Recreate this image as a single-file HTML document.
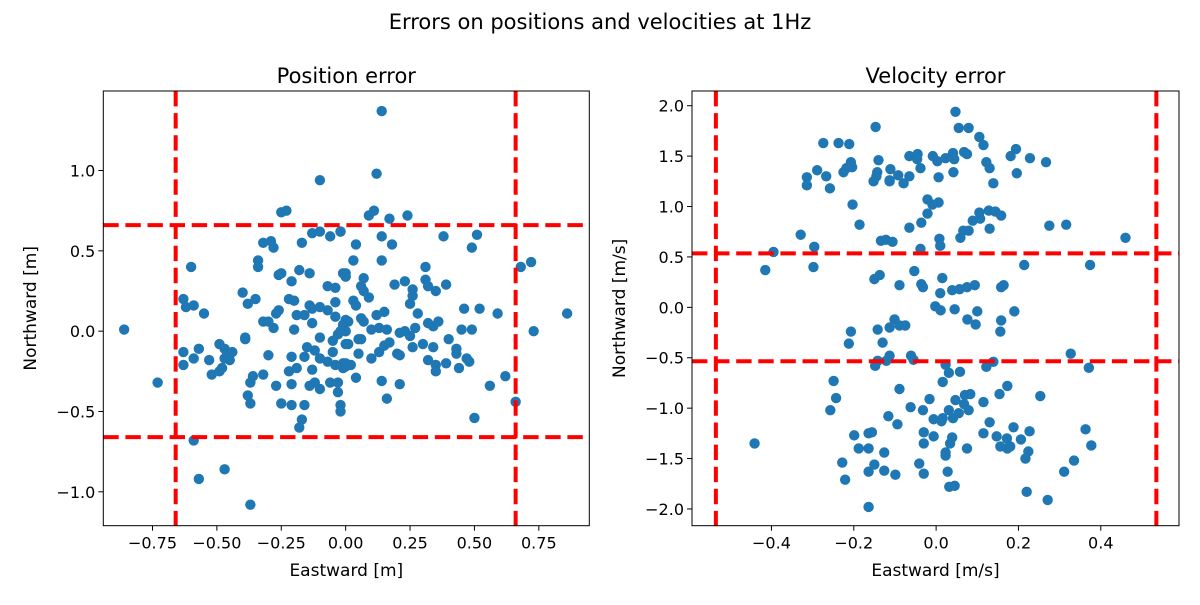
<!DOCTYPE html>
<html><head><meta charset="utf-8"><style>
body{margin:0;background:#fff}
svg{font-family:"DejaVu Sans","Liberation Sans",sans-serif}
</style></head><body>
<svg id="fig" width="1200" height="600">
<text x="600" y="29" text-anchor="middle" font-size="21">Errors on positions and velocities at 1Hz</text>
</svg>
<script>
const posX=[-0.10,-0.25,-0.23,-0.13,-0.10,-0.02,-0.06,-0.32,-0.29,-0.28,-0.17,-0.60,-0.34,-0.34,-0.26,-0.25,-0.21,-0.18,-0.14,0,0,-0.07,-0.04,-0.40,-0.38,-0.35,-0.22,-0.20,-0.04,-0.63,-0.62,-0.59,-0.55,-0.27,-0.26,-0.14,-0.13,-0.10,-0.07,-0.19,-0.16,-0.04,-0.32,-0.30,-0.28,-0.20,-0.13,0,0,-0.01,-0.86,-0.39,-0.39,-0.10,-0.05,-0.03,0,-0.63,-0.57,-0.59,-0.63,-0.49,-0.47,-0.46,-0.44,-0.47,-0.45,-0.53,-0.52,-0.49,-0.48,-0.30,-0.21,-0.16,-0.15,-0.12,-0.10,-0.07,-0.05,-0.04,0,0,-0.22,-0.19,-0.13,-0.73,-0.37,-0.36,-0.32,-0.27,-0.21,-0.14,-0.12,-0.10,-0.06,-0.03,-0.03,-0.38,-0.37,-0.25,-0.21,-0.16,-0.02,-0.02,-0.17,-0.18,-0.59,-0.47,-0.57,-0.37,
0.14,0.12,0.09,0.11,0.17,0.24,-0.02,0.14,0.18,0.04,0.38,0.49,0.51,0.03,0.14,-0.01,0,0.68,0.72,0.31,0.31,0.32,0.35,0.39,0.07,0.06,0.07,0.09,0.19,0.23,0.26,0.26,0.25,0.28,0.03,0.04,0.12,0.15,0.46,0.52,0.59,0.86,0,0.01,0.06,0.07,0,-0.02,0.10,0.13,0.16,0.21,0.23,0.25,0.27,0.32,0.34,0.36,0.45,0.49,0.73,0.01,0.05,0.06,0.05,0.17,0.15,0.13,0.10,0.20,0.21,0.26,0.30,0.34,0.40,0.43,0.43,0.32,0.35,0.35,0.39,0.47,0.48,0.44,-0.01,0.02,-0.01,0.04,0.14,0.21,0.16,0.62,0.56,0.66,0.50];
const posY=[0.94,0.74,0.75,0.61,0.62,0.62,0.59,0.55,0.56,0.52,0.55,0.40,0.44,0.40,0.35,0.36,0.31,0.38,0.36,0.36,0.34,0.28,0.27,0.24,0.17,0.20,0.20,0.19,0.18,0.20,0.15,0.16,0.11,0.11,0.13,0.16,0.14,0.15,0.13,0.10,0.10,0.09,0.06,0.06,0.02,0.01,0.05,0.06,0,0.04,0.01,-0.04,-0.05,-0.04,-0.06,-0.02,-0.08,-0.13,-0.11,-0.17,-0.21,-0.08,-0.11,-0.14,-0.13,-0.17,-0.18,-0.18,-0.27,-0.25,-0.23,-0.15,-0.16,-0.16,-0.10,-0.12,-0.17,-0.19,-0.13,-0.21,-0.20,-0.22,-0.25,-0.23,-0.24,-0.32,-0.32,-0.28,-0.27,-0.34,-0.33,-0.34,-0.32,-0.36,-0.32,-0.32,-0.38,-0.40,-0.45,-0.45,-0.46,-0.46,-0.46,-0.50,-0.55,-0.60,-0.68,-0.86,-0.92,-1.08,
1.37,0.98,0.72,0.75,0.70,0.72,0.62,0.59,0.54,0.54,0.59,0.52,0.60,0.44,0.44,0.36,0.34,0.40,0.43,0.40,0.32,0.28,0.25,0.29,0.33,0.28,0.25,0.21,0.29,0.31,0.26,0.22,0.17,0.11,0.19,0.16,0.10,0.12,0.14,0.14,0.11,0.11,0.07,0.06,0.08,0.06,0,0,0.01,0.02,0.01,-0.01,0.00,-0.03,0.02,0.05,0.03,0.06,0.01,0.01,0,-0.08,-0.05,-0.05,-0.14,-0.07,-0.09,-0.13,-0.17,-0.14,-0.15,-0.10,-0.08,-0.10,-0.05,-0.11,-0.14,-0.18,-0.21,-0.25,-0.20,-0.17,-0.19,-0.23,-0.20,-0.21,-0.23,-0.29,-0.31,-0.33,-0.42,-0.28,-0.34,-0.44,-0.54];
const velX=[-0.147,-0.274,-0.237,-0.211,-0.314,-0.314,-0.289,-0.267,-0.258,-0.225,-0.218,-0.207,-0.204,-0.14,-0.143,-0.145,-0.152,-0.111,-0.113,-0.113,-0.092,-0.079,-0.065,-0.065,-0.045,-0.046,-0.038,-0.203,-0.186,-0.065,-0.036,-0.329,-0.296,-0.298,-0.395,-0.415,-0.134,-0.122,-0.106,-0.038,-0.150,-0.137,-0.053,-0.089,-0.036,-0.032,-0.207,-0.212,-0.142,-0.101,-0.113,-0.089,-0.075,-0.130,-0.148,-0.142,-0.121,-0.113,-0.061,-0.249,-0.243,-0.257,-0.089,-0.062,-0.032,-0.116,-0.094,-0.441,-0.199,-0.188,-0.164,-0.156,-0.164,-0.126,-0.150,-0.126,-0.228,-0.221,-0.164,-0.099,-0.041,-0.030,-0.030,-0.030,-0.164,
0.047,0.055,0.079,0.105,0.115,-0.008,0.003,0.023,0.041,0.044,0.068,0.075,0.042,0.006,0.122,0.130,0.139,0.181,0.194,0.196,0.228,0.267,-0.021,-0.009,0.006,-0.021,0.008,0.010,0.059,0.066,0.079,0.089,0.107,0.105,0.128,0.144,0.158,0.130,0.275,0.316,0.460,0.214,0.374,0.015,0.010,0.039,0.057,0.075,0.094,0.158,0.164,-0.002,0.011,0.045,0.076,0.096,0.100,0.158,0.156,0.190,-0.055,0.023,0.031,0.058,0.016,0.122,0.139,0.327,0.371,-0.016,-0.006,0.013,0.016,0.031,0.047,0.041,0.055,0.070,0.083,0.079,0.068,0.115,0.154,0.173,0.253,-0.006,0.039,0.034,0.023,0.023,0.075,0.115,0.130,0.147,0.156,0.172,0.173,0.180,0.188,0.206,0.227,0.224,0.217,0.028,0.032,0.045,0.220,0.271,0.311,0.335,0.363,0.377];
const velY=[1.79,1.63,1.63,1.62,1.29,1.21,1.36,1.30,1.18,1.34,1.38,1.44,1.39,1.46,1.34,1.30,1.25,1.37,1.26,1.25,1.31,1.23,1.30,1.50,1.52,1.47,1.38,1.02,0.82,0.79,0.84,0.72,0.60,0.40,0.55,0.37,0.66,0.67,0.65,0.58,0.28,0.32,0.36,0.22,0.23,0.20,-0.24,-0.36,-0.22,-0.12,-0.20,-0.18,-0.18,-0.35,-0.58,-0.53,-0.53,-0.48,-0.48,-0.73,-0.90,-1.02,-0.81,-0.99,-1.02,-1.08,-1.16,-1.35,-1.27,-1.40,-1.25,-1.24,-1.40,-1.44,-1.56,-1.62,-1.54,-1.71,-1.63,-1.66,-1.55,-1.65,-1.24,-1.35,-1.98,
1.94,1.78,1.78,1.69,1.61,1.50,1.45,1.48,1.53,1.47,1.54,1.52,1.34,1.29,1.44,1.38,1.23,1.50,1.57,1.33,1.48,1.44,1.07,1.02,1.04,0.93,0.68,0.61,0.69,0.76,0.76,0.86,0.88,0.94,0.96,0.95,0.91,0.78,0.81,0.82,0.69,0.42,0.42,0.29,0.14,0.17,0.18,0.20,0.22,0.20,0.22,0.01,-0.03,-0.02,-0.12,-0.17,-0.04,-0.13,-0.24,-0.04,-0.52,-0.57,-0.65,-0.64,-0.74,-0.59,-0.54,-0.46,-0.60,-0.91,-1.11,-1.13,-1.10,-1.02,-0.92,-1.10,-1.05,-0.87,-0.86,-1.02,-0.96,-0.94,-0.86,-0.78,-0.88,-1.28,-1.29,-1.35,-1.44,-1.47,-1.40,-1.25,-1.14,-1.28,-1.38,-1.30,-1.40,-1.38,-1.19,-1.31,-1.23,-1.43,-1.50,-1.63,-1.78,-1.77,-1.83,-1.91,-1.63,-1.52,-1.21,-1.37];
const posXTicks=[-0.75,-0.5,-0.25,0,0.25,0.5,0.75];
const posYTicks=[-1.0,-0.5,0.0,0.5,1.0];
const velXTicks=[-0.4,-0.2,0.0,0.2,0.4];
const velYTicks=[-2.0,-1.5,-1.0,-0.5,0.0,0.5,1.0,1.5,2.0];
const posLimit=0.66, velLimit=0.535;

const NS="http://www.w3.org/2000/svg";
const fig=document.getElementById('fig');
function mk(tag,attrs,parent){const e=document.createElementNS(NS,tag);for(const k in attrs)e.setAttribute(k,attrs[k]);(parent||fig).appendChild(e);return e;}
function fmt(v,d){return (v<0?"\u2212":"")+Math.abs(v).toFixed(d);}

function panel(o){
  const g=mk('g',{});
  
  
  const sx=v=>o.x0+(v-o.xmin)/(o.xmax-o.xmin)*(o.x1-o.x0);
  const sy=v=>o.y1-(v-o.ymin)/(o.ymax-o.ymin)*(o.y1-o.y0);
  for(let i=0;i<o.xs.length;i++){
    const c=mk('circle',{cx:sx(o.xs[i]),cy:sy(o.ys[i]),r:5.2,fill:'#1f77b4'},g);
    
    
  }
  const lines=[[sx(-o.lim),o.y0,sx(-o.lim),o.y1],[sx(o.lim),o.y0,sx(o.lim),o.y1],[o.x0,sy(o.lim),o.x1,sy(o.lim)],[o.x0,sy(-o.lim),o.x1,sy(-o.lim)]];
  lines.forEach(l=>{
    const e=mk('line',{x1:l[0],y1:l[1],x2:l[2],y2:l[3],stroke:'#ff0000','stroke-width':4,'stroke-dasharray':'15.4 6.7'},g);
    
    
  });
  const fr=mk('rect',{x:o.x0,y:o.y0,width:o.x1-o.x0,height:o.y1-o.y0,fill:'none',stroke:'#000','stroke-width':1},g);
  
  
  o.xt.forEach(v=>{
    const X=sx(v);
    mk('line',{x1:X,y1:o.y1,x2:X,y2:o.y1+5,stroke:'#000'},g);
    const t=mk('text',{x:X,y:o.y1+23,'text-anchor':'middle','font-size':16},g);
    t.textContent=fmt(v,o.xd);
    
    
  });
  o.yt.forEach(v=>{
    const Y=sy(v);
    mk('line',{x1:o.x0-5,y1:Y,x2:o.x0,y2:Y,stroke:'#000'},g);
    const t=mk('text',{x:o.x0-8,y:Y+6,'text-anchor':'end','font-size':16},g);
    t.textContent=fmt(v,1);
    
    
  });
  const ti=mk('text',{x:(o.x0+o.x1)/2,y:o.y0-8,'text-anchor':'middle','font-size':21},g);
  ti.textContent=o.title;
  
  
  const xl=mk('text',{x:(o.x0+o.x1)/2,y:576,'text-anchor':'middle','font-size':17},g);
  xl.textContent=o.xl;
  
  
  const yx=o.ylx, yy=(o.y0+o.y1)/2;
  const yl=mk('text',{x:yx,y:yy,'text-anchor':'middle','font-size':17,transform:`rotate(-90 ${yx} ${yy})`},g);
  yl.textContent=o.yl;
  
  
}
panel({name:'position-error-panel',xs:posX,ys:posY,x0:103.3,x1:589.3,y0:91,y1:525.7,xmin:-0.941,xmax:0.946,ymin:-1.211,ymax:1.495,lim:posLimit,xt:posXTicks,yt:posYTicks,xd:2,title:'Position error',xl:'Eastward [m]',yl:'Northward [m]',ylx:36});
panel({name:'velocity-error-panel',xs:velX,ys:velY,x0:692,x1:1179,y0:91,y1:525.7,xmin:-0.593,xmax:0.590,ymin:-2.166,ymax:2.146,lim:velLimit,xt:velXTicks,yt:velYTicks,xd:1,title:'Velocity error',xl:'Eastward [m/s]',yl:'Northward [m/s]',ylx:625});
</script>
</body></html>
